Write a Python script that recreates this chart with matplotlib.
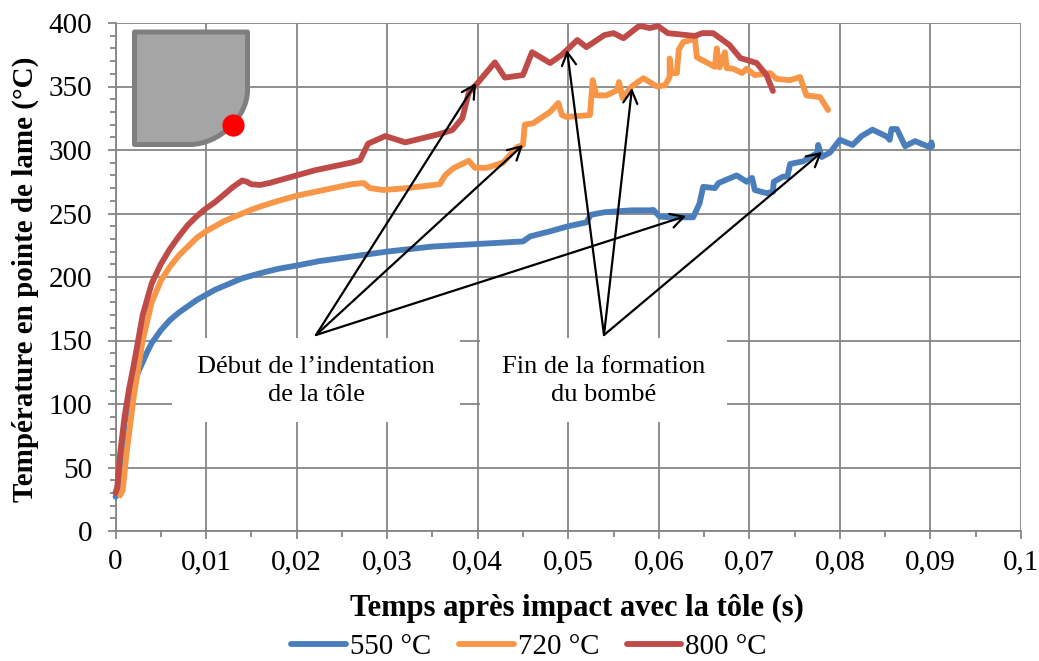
import matplotlib
matplotlib.use("Agg")
import matplotlib.pyplot as plt
from matplotlib.patches import PathPatch, Rectangle
from matplotlib.path import Path
from matplotlib.ticker import MultipleLocator, FuncFormatter

t_550 = [0,.0003,.0006,.001,.0015,.002,.0025,.003,.0035,.004,.005,.006,.007,.008,.009,.01,.011,.012,.013,.014,.015,.016,.018,.02,.0225,.025,.0275,.03,.0325,.035,.0375,.04,.0425,.045,.0458,.048,.05,.052,.0525,.054,.057,.059,.0594,.0601,.0615,.0638,.0645,.0649,.0662,.0666,.0686,.0697,.0703,.0706,.0719,.0726,.0727,.0737,.0742,.0745,.0759,.0775,.0776,.078,.0789,.08,.0814,.0824,.0836,.0852,.0855,.0857,.0863,.0872,.0883,.09,.0901,.0902]
v_550 = [27,29,55,85,102,115,125,133,141,148,158,166,172,177,182,186,190,193,196,199,201,203,206.5,209,212.5,215,217.5,220,222,224,225,226,227,228,232,236,240,243,249,251,252.5,252.5,252.8,247.5,247,247,258,271,270,274,280,275,278,268.5,266,267,275,279,279,289,291,297.6,304,294.5,298,308,304,311,316,310.5,308,316.5,316.5,303,307,302,306,303]
t_720 = [.0005,.0008,.0012,.002,.003,.004,.005,.006,.007,.008,.009,.01,.011,.012,.013,.014,.015,.016,.018,.02,.022,.024,.026,.0274,.0281,.0296,.0322,.0358,.0364,.0373,.039,.0397,.041,.0428,.0443,.045,.0452,.0461,.048,.0489,.0493,.0498,.0524,.0527,.0531,.0542,.0554,.0556,.056,.057,.0583,.0598,.0607,.0612,.0612,.0614,.062,.0622,.0627,.064,.0642,.0662,.0664,.0667,.0673,.0675,.0682,.0692,.0697,.0706,.0723,.073,.0745,.0756,.0763,.0778,.0787]
v_720 = [28,32,60,105,150,180,197,208,217,224,231,236,240,244,247,250,253,255.5,260,264,267,270,273,274,270,268.5,270,273,280,285.6,291.5,286,286,290,302,304,320,321,330,337,327.5,326,327.5,355,343,343,347,353.5,341,350,356.5,350,351,357.5,372,360.6,360.6,379,385,387.5,373,365.5,380,365,377,364.5,364,360.6,364,359,360.6,356,355,357.5,343,341.7,331.5]
t_800 = [0,.0002,.0005,.001,.0015,.002,.003,.004,.005,.006,.007,.008,.009,.01,.011,.012,.013,.014,.0145,.015,.016,.017,.018,.02,.022,.024,.026,.027,.0279,.0298,.032,.0358,.0372,.0383,.039,.0399,.0419,.043,.045,.046,.048,.0493,.051,.052,.054,.055,.0561,.0577,.058,.059,.0599,.061,.064,.0648,.066,.0678,.069,.0708,.0719,.0726]
v_800 = [30,35,60,90,112,130,170,195,210,222,232,241,248,254,259,265,271,276,275,273,272.5,274,276,280,284,287,290,292,305,311,306,312.6,315.7,325,345,352,369,357,359,377,368.5,375,386.6,381,390.5,392,388,397,397.6,396,397.6,392,389.8,392,392,382.7,372.4,368.5,359,346.5]
series_names = ["550 °C","720 °C","800 °C"]
series_colors = ["#4A7EBB","#F79646","#BE4B48"]
y_label = "Température en pointe de lame (°C)"
x_label = "Temps après impact avec la tôle (s)"
note_start = "Début de l’indentation\nde la tôle"
note_end = "Fin de la formation\ndu bombé"

W,H = 1039,661
plt.rcParams['font.family'] = ['Liberation Serif','DejaVu Sans']
fig = plt.figure(figsize=(W/100,H/100),dpi=100)
L,R,T,B = 115.5,1021,23,531
ax = fig.add_axes([L/W,1-B/H,(R-L)/W,(B-T)/H])
GRID="#868686"
ax.set_xlim(0,.1); ax.set_ylim(0,400)
ax.xaxis.set_major_locator(MultipleLocator(.01)); ax.xaxis.set_minor_locator(MultipleLocator(.005))
ax.yaxis.set_major_locator(MultipleLocator(50)); ax.yaxis.set_minor_locator(MultipleLocator(10))
ax.xaxis.set_major_formatter(FuncFormatter(lambda v,p:"0" if v==0 else ("0,1" if abs(v-.1)<1e-9 else f"{v:.2f}".replace(".",","))))
ax.grid(True,which='major',color=GRID,lw=1.3)
ax.set_axisbelow(True)
for s in ['top','right']: ax.spines[s].set_visible(False)
for s in ['left','bottom']:
    ax.spines[s].set_color(GRID); ax.spines[s].set_linewidth(1.3)
ax.tick_params(axis='y',which='major',length=6,width=1.3,color=GRID,labelsize=21,pad=11)
ax.tick_params(axis='x',which='major',length=6,width=1.3,color=GRID,labelsize=21,pad=7)
ax.tick_params(which='minor',length=4,width=1.3,color=GRID)

def px(x,y):
    return ((x-L)/(R-L),(B-y)/(B-T))

ax.set_xlabel(x_label,fontsize=22,fontweight='bold',va='center')
ax.xaxis.set_label_coords(*px(576.5,608))
ax.set_ylabel(y_label,fontsize=21,fontweight='bold',va='center')
ax.yaxis.set_label_coords(*px(25,279))

for bx in [(172,338,460,422),(480,338,727,422)]:
    x0,y1=px(bx[0],bx[3]); x1,y0=px(bx[2],bx[1])
    ax.add_patch(Rectangle((x0,y1),x1-x0,y0-y1,transform=ax.transAxes,fc='white',ec='none',zorder=1.5))

hs=[]
for t,v,c,n in zip([t_550,t_720,t_800],[v_550,v_720,v_800],series_colors,series_names):
    h,=ax.plot(t,v,color=c,lw=4.2,solid_joinstyle='round',solid_capstyle='round',label=n,zorder=3,clip_on=False)
    hs.append(h)

for start,ends in [((316,335),[(476,83),(523,145),(686,216)]),((604,335),[(567,50),(632,88),(822,152)])]:
    for e in ends:
        ax.annotate("",xy=px(*e),xytext=px(*start),xycoords='axes fraction',textcoords='axes fraction',
                    arrowprops=dict(arrowstyle='->,head_length=0.55,head_width=0.3',mutation_scale=17,color='black',lw=1.6,shrinkA=0,shrinkB=0),zorder=4)

ax.text(*px(316,381),note_start,transform=ax.transAxes,ha='center',va='center',fontsize=19,linespacing=1.32,zorder=5)
ax.text(*px(604,381),note_end,transform=ax.transAxes,ha='center',va='center',fontsize=19,linespacing=1.32,zorder=5)

a=px(134.5,32); b=px(247.5,32); c=px(247.5,90); d=px(247.5,118); e=px(218,144.5); f=px(190,144.5); g=px(134.5,144.5)
path=Path([a,b,c,d,e,f,g,a],[Path.MOVETO,Path.LINETO,Path.LINETO,Path.CURVE4,Path.CURVE4,Path.CURVE4,Path.LINETO,Path.CLOSEPOLY])
ax.add_patch(PathPatch(path,transform=ax.transAxes,fc='#A5A5A5',ec='#7F7F7F',lw=3.6,joinstyle='round',zorder=5,clip_on=False))
ax.plot(*px(233,125),'o',transform=ax.transAxes,ms=16,color='#FF0000',mec='none',zorder=6)

fig.legend(handles=hs,loc='center',bbox_to_anchor=(529/W,1-647/H),ncol=3,frameon=False,fontsize=20.8,
           handlelength=1.9,handletextpad=0.14,columnspacing=0.95,borderpad=0)
fig.savefig("out.png",dpi=100)
